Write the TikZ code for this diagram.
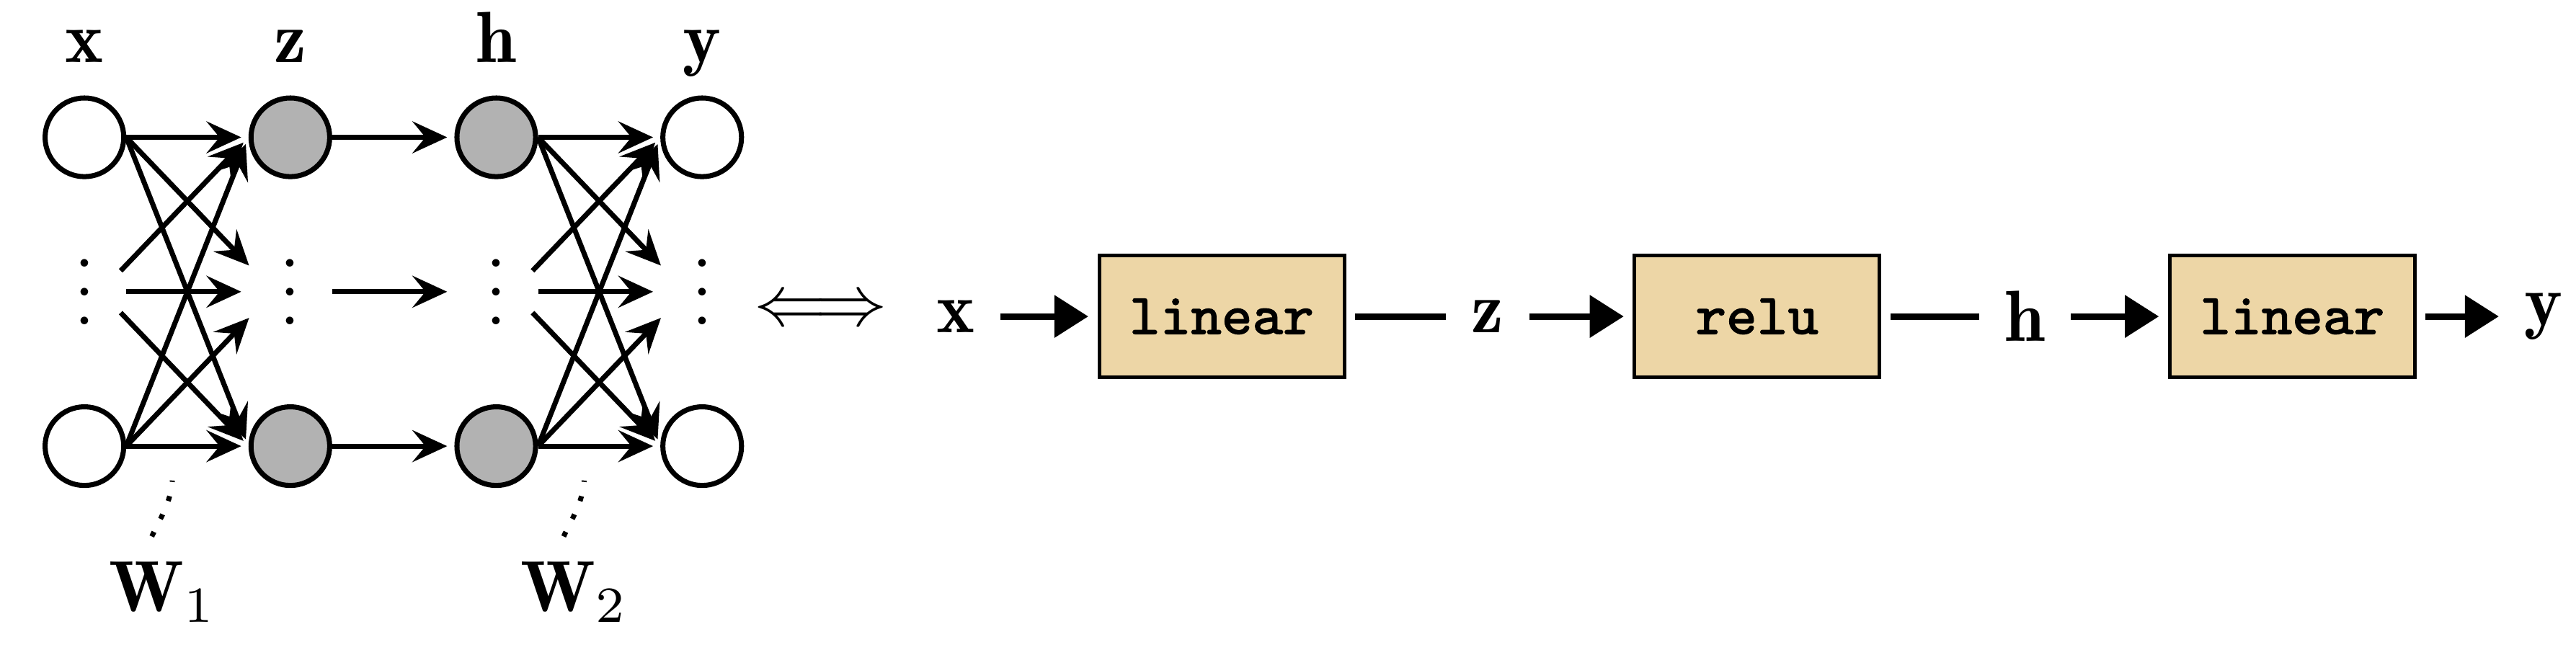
\documentclass[tikz,border=0pt]{standalone}
\usepackage{fontspec}
\usetikzlibrary{arrows.meta}
\newfontfamily\codefont[FakeBold=1.4]{Latin Modern Mono}
\definecolor{boxtan}{RGB}{237,214,166}

\begin{document}
\begin{tikzpicture}[
    neuron/.style={circle, draw, line width=0.7pt, fill=white, minimum size=0.382cm, inner sep=0pt},
    hidden/.style={neuron, fill=gray!60},
    dotsnode/.style={circle, minimum size=0.382cm, inner sep=0pt, outer sep=0.35pt, text height=9.1pt, text depth=0pt},
    conn/.style={line width=0.7pt, -{Stealth[length=4.8pt, width=4.4pt, inset=1.8pt]}, shorten >=1pt},
    link/.style={line width=0.9pt},
    flow/.style={link, -{Triangle[length=4.7pt, width=5.7pt]}},
    layer/.style={draw, line width=0.5pt, fill=boxtan, minimum width=1.19cm, minimum height=0.59cm,
        outer sep=1.5pt, font={\codefont\fontsize{8}{9.5}\selectfont}},
    weight/.style={line width=0.7pt, dash pattern=on 0.7pt off 2pt}
]
    \useasboundingbox (0,0) rectangle (12.51,3.157);

    % 网络的四层
    \node[neuron] (x1) at (0.41,2.49) {};
    \node[dotsnode] (x2) at (0.41,1.74) {$\vdots$};
    \node[neuron] (x3) at (0.41,0.99) {};
    \node[hidden] (z1) at (1.41,2.49) {};
    \node[dotsnode] (z2) at (1.41,1.74) {$\vdots$};
    \node[hidden] (z3) at (1.41,0.99) {};
    \node[hidden] (h1) at (2.41,2.49) {};
    \node[dotsnode] (h2) at (2.41,1.74) {$\vdots$};
    \node[hidden] (h3) at (2.41,0.99) {};
    \node[neuron] (y1) at (3.41,2.49) {};
    \node[dotsnode] (y2) at (3.41,1.74) {$\vdots$};
    \node[neuron] (y3) at (3.41,0.99) {};

    % 层名
    \node[anchor=base] (lx) at (0.41,2.853) {$\mathbf{x}$};
    \node[anchor=base] (lz) at (1.41,2.853) {$\mathbf{z}$};
    \node[anchor=base] (lh) at (2.41,2.853) {$\mathbf{h}$};
    \node[anchor=base] (ly) at (3.41,2.853) {$\mathbf{y}$};

    % 第一层全连接
    \draw[conn] (x1.east) -- (z1.west);
    \draw[conn] (x1.east) -- (z2.150);
    \draw[conn] (x1.east) -- (z3.west);
    \draw[conn] (x2.30) -- (z1.west);
    \draw[conn] (x2.east) -- (z2.west);
    \draw[conn] (x2.-30) -- (z3.west);
    \draw[conn] (x3.east) -- (z1.west);
    \draw[conn] (x3.east) -- (z2.210);
    \draw[conn] (x3.east) -- (z3.west);

    % 激活（逐元素）
    \draw[conn] (z1.east) -- (h1.west);
    \draw[conn] (z2.east) -- (h2.west);
    \draw[conn] (z3.east) -- (h3.west);

    % 第二层全连接
    \draw[conn] (h1.east) -- (y1.west);
    \draw[conn] (h1.east) -- (y2.150);
    \draw[conn] (h1.east) -- (y3.west);
    \draw[conn] (h2.30) -- (y1.west);
    \draw[conn] (h2.east) -- (y2.west);
    \draw[conn] (h2.-30) -- (y3.west);
    \draw[conn] (h3.east) -- (y1.west);
    \draw[conn] (h3.east) -- (y2.210);
    \draw[conn] (h3.east) -- (y3.west);

    % 权重标注
    \node[anchor=base] (W1) at (0.79,0.186) {$\mathbf{W}_1$};
    \node[anchor=base] (W2) at (2.79,0.186) {$\mathbf{W}_2$};
    \coordinate (w1) at (0.837,0.823);
    \coordinate (w2) at (2.837,0.823);
    \draw[weight] ([xshift=-1.5pt]W1.north) to[out=65, in=-95] (w1);
    \draw[weight] ([xshift=-1.5pt]W2.north) to[out=65, in=-95] (w2);

    % 等价
    \node (equiv) at (3.985,1.64) {$\Longleftrightarrow$};

    % 模块链
    \node (xr) at (4.64,1.62) {$\mathbf{x}$};
    \node[layer] (lin1) at (5.933,1.62) {linear};
    \node (zr) at (7.224,1.62) {$\mathbf{z}$};
    \node[layer] (act) at (8.533,1.62) {relu};
    \node (hr) at (9.835,1.62) {$\mathbf{h}$};
    \node[layer] (lin2) at (11.132,1.62) {linear};
    \node (yr) at (12.352,1.62) {$\mathbf{y}$};
    \draw[flow] (xr) -- (lin1);
    \draw[link] (lin1) -- (zr);
    \draw[flow] (zr) -- (act);
    \draw[link] (act) -- (hr);
    \draw[flow] (hr) -- (lin2);
    \draw[flow] (lin2) -- (yr);
\end{tikzpicture}
\end{document}
